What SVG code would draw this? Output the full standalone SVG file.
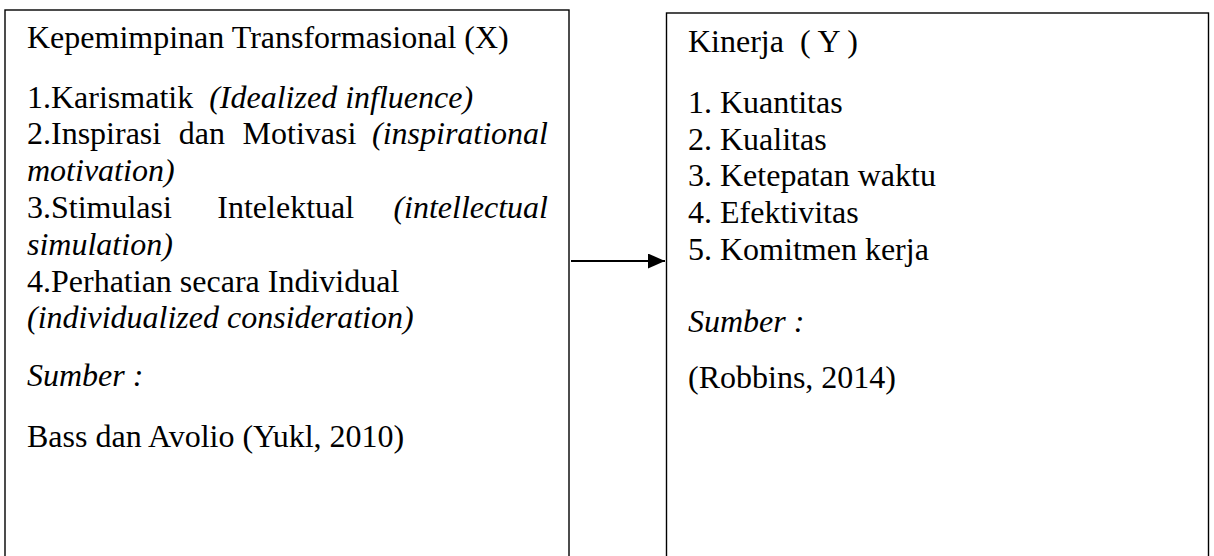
<svg xmlns="http://www.w3.org/2000/svg" width="1214" height="556" viewBox="0 0 1214 556">
<style>
.box{fill:#fff;stroke:#000;stroke-width:1.4}
.t{font-family:"Liberation Serif","Times New Roman",serif;font-size:32px;fill:#000}
.i{font-style:italic}
.conn{stroke:#000;stroke-width:2;fill:none}
</style>
<defs>
<marker id="ah" markerWidth="17" markerHeight="15" refX="17" refY="7.5" orient="auto" markerUnits="userSpaceOnUse">
<polygon points="0,0 17,7.5 0,15" fill="#000"/>
</marker>
</defs>
<rect width="1214" height="556" fill="#fff"/>
<g id="node-x">
<rect class="box" x="5" y="10" width="564" height="560"/>
<text class="t" x="27" y="47.5">Kepemimpinan Transformasional (X)</text>
<text class="t" x="27" y="107.5" xml:space="preserve">1.Karismatik  <tspan class="i">(Idealized influence)</tspan></text>
<text class="t" y="144.3"><tspan x="27">2.Inspirasi</tspan><tspan x="178.8">dan</tspan><tspan x="242.6">Motivasi</tspan></text>
<text class="t i" x="548" y="144.3" text-anchor="end">(inspirational</text>
<text class="t i" x="27" y="181.1">motivation)</text>
<text class="t" y="217.9"><tspan x="27">3.Stimulasi</tspan><tspan x="217.3">Intelektual</tspan></text>
<text class="t i" x="548" y="217.9" text-anchor="end">(intellectual</text>
<text class="t i" x="27" y="254.7">simulation)</text>
<text class="t" x="27" y="291.5">4.Perhatian secara Individual</text>
<text class="t i" x="27" y="328.3">(individualized consideration)</text>
<text class="t i" x="27" y="386">Sumber :</text>
<text class="t" x="27" y="447">Bass dan Avolio (Yukl, 2010)</text>
</g>
<g id="node-y">
<rect class="box" x="666.5" y="13" width="542" height="560"/>
<text class="t" x="688" y="52" xml:space="preserve">Kinerja  ( Y )</text>
<text class="t" x="688" y="112.7">1. Kuantitas</text>
<text class="t" x="688" y="149.5">2. Kualitas</text>
<text class="t" x="688" y="186.3">3. Ketepatan waktu</text>
<text class="t" x="688" y="223.1">4. Efektivitas</text>
<text class="t" x="688" y="259.9">5. Komitmen kerja</text>
<text class="t i" x="688" y="332">Sumber :</text>
<text class="t" x="688" y="388">(Robbins, 2014)</text>
</g>
<g id="connectors">
<line class="conn" x1="571" y1="261" x2="665" y2="261" marker-end="url(#ah)"/>
</g>
</svg>
